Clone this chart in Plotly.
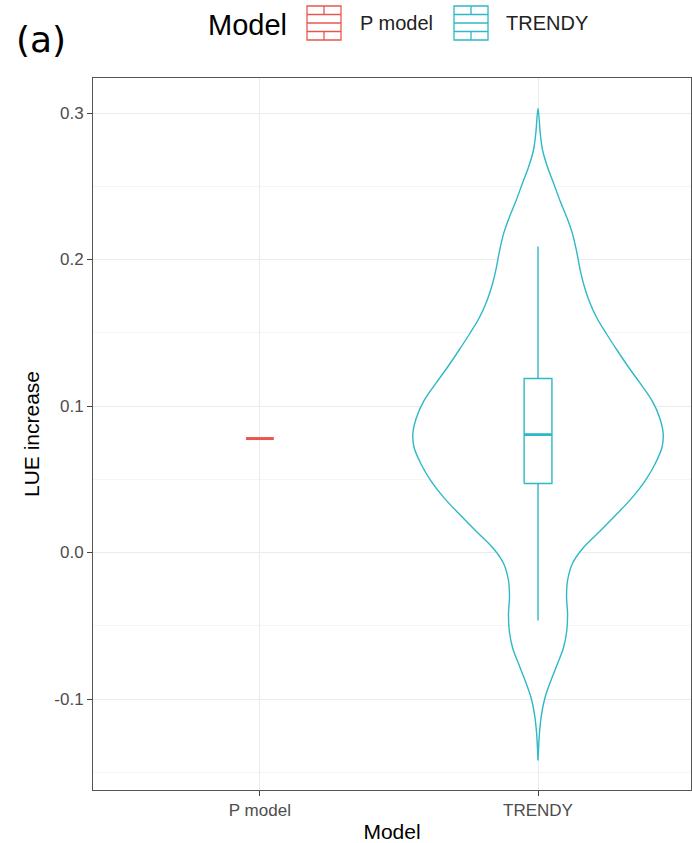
import plotly.graph_objects as go

# ---------------- data ----------------
categories = ["P model", "TRENDY"]
legend_title = "Model"

# TRENDY violin outline: LUE level and relative density (1 = widest)
violin_levels = [0.3031, 0.2860, 0.2744, 0.2628, 0.2519, 0.2403, 0.2287, 0.2177,
                 0.2061, 0.1945, 0.1836, 0.1720, 0.1604, 0.1495, 0.1379, 0.1263,
                 0.1154, 0.1038, 0.0922, 0.0812, 0.0717, 0.0608, 0.0491, 0.0375,
                 0.0266, 0.0150, 0.0034, -0.0075, -0.0191, -0.0307, -0.0416, -0.0532,
                 -0.0648, -0.0758, -0.0874, -0.0990, -0.1099, -0.1215, -0.1420]
violin_density = [0.0, 0.018, 0.037, 0.077, 0.125, 0.175, 0.230, 0.275,
                  0.307, 0.333, 0.363, 0.407, 0.468, 0.545, 0.633, 0.725,
                  0.817, 0.910, 0.971, 1.0, 0.990, 0.937, 0.857, 0.752,
                  0.633, 0.500, 0.363, 0.275, 0.236, 0.228, 0.236, 0.230,
                  0.204, 0.156, 0.103, 0.056, 0.029, 0.013, 0.0]

# TRENDY box statistics
trendy_q1 = 0.0471
trendy_median = 0.0805
trendy_q3 = 0.1188
trendy_lower = -0.0464
trendy_upper = 0.2089

# P model (single value)
pmodel_value = 0.0778

y_ticks = [-0.1, 0.0, 0.1, 0.2, 0.3]
y_tick_labels = ["-0.1", "0.0", "0.1", "0.2", "0.3"]
y_minor = [-0.15, -0.05, 0.05, 0.15, 0.25]

# ---------------- styles ----------------
RED = "#E8574F"
BLUE = "#2DB9C6"
VIOLIN_HALF = 0.45
BOX_W = 0.1
W, H = 692, 843
ML, MR, MT, MB = 93, 1, 78, 53
PW, PH = W - ML - MR, H - MT - MB
FONT = "Liberation Sans"

xpos = {c: i + 1 for i, c in enumerate(categories)}


def px(x):
    return (x - ML) / PW


def py(y):
    return (H - MB - y) / PH


fig = go.Figure()

# violin outline (filled white)
xc = xpos["TRENDY"]
right_x = [xc + VIOLIN_HALF * d for d in violin_density]
left_x = [xc - VIOLIN_HALF * d for d in violin_density][::-1]
vx = right_x + left_x
vy = violin_levels + violin_levels[::-1]
fig.add_trace(go.Scatter(x=vx, y=vy, mode="lines", fill="toself", fillcolor="white",
                         line=dict(color=BLUE, width=1.4, shape="spline", smoothing=1.0),
                         showlegend=False, hoverinfo="skip"))

# TRENDY box (drawn from the box statistics)
bl, br = xc - BOX_W / 2, xc + BOX_W / 2
fig.add_trace(go.Scatter(x=[xc, xc], y=[trendy_q3, trendy_upper], mode="lines",
                         line=dict(color=BLUE, width=1.4), showlegend=False, hoverinfo="skip"))
fig.add_trace(go.Scatter(x=[xc, xc], y=[trendy_lower, trendy_q1], mode="lines",
                         line=dict(color=BLUE, width=1.4), showlegend=False, hoverinfo="skip"))
fig.add_trace(go.Scatter(x=[bl, br, br, bl, bl], y=[trendy_q1, trendy_q1, trendy_q3, trendy_q3, trendy_q1],
                         mode="lines", fill="toself", fillcolor="white",
                         line=dict(color=BLUE, width=1.4), showlegend=False, hoverinfo="skip"))
fig.add_trace(go.Scatter(x=[bl, br], y=[trendy_median, trendy_median],
                         mode="lines", line=dict(color=BLUE, width=2.8),
                         showlegend=False, hoverinfo="skip"))

# P model (collapsed box -> horizontal line)
xp = xpos["P model"]
fig.add_trace(go.Scatter(x=[xp - BOX_W / 2, xp + BOX_W / 2], y=[pmodel_value, pmodel_value],
                         mode="lines", line=dict(color=RED, width=3),
                         showlegend=False, hoverinfo="skip"))

# ---------------- manual legend ----------------
shapes = []
annotations = []


def key_glyph(x0, y0, size, color):
    x1, y1 = x0 + size, y0 + size
    xm = (x0 + x1) / 2
    lw = 1.3
    shapes.append(dict(type="rect", xref="paper", yref="paper",
                       x0=px(x0), x1=px(x1), y0=py(y1), y1=py(y0),
                       line=dict(color=color, width=lw), fillcolor="white"))
    for f in (0.25, 0.5, 0.75):
        yy = y0 + f * size
        shapes.append(dict(type="line", xref="paper", yref="paper",
                           x0=px(x0), x1=px(x1), y0=py(yy), y1=py(yy),
                           line=dict(color=color, width=lw)))
    shapes.append(dict(type="line", xref="paper", yref="paper",
                       x0=px(xm), x1=px(xm), y0=py(y0), y1=py(y0 + 0.25 * size),
                       line=dict(color=color, width=lw)))
    shapes.append(dict(type="line", xref="paper", yref="paper",
                       x0=px(xm), x1=px(xm), y0=py(y0 + 0.75 * size), y1=py(y1),
                       line=dict(color=color, width=lw)))


key_glyph(307, 6, 34, RED)
key_glyph(454, 6, 34, BLUE)

annotations.append(dict(text=legend_title, xref="paper", yref="paper", x=px(247), y=py(25),
                        xanchor="center", yanchor="middle", showarrow=False,
                        font=dict(size=29, color="black", family=FONT)))
annotations.append(dict(text=categories[0], xref="paper", yref="paper", x=px(358), y=py(23),
                        xanchor="left", yanchor="middle", showarrow=False,
                        font=dict(size=20, color="#222222", family=FONT)))
annotations.append(dict(text=categories[1], xref="paper", yref="paper", x=px(504), y=py(23),
                        xanchor="left", yanchor="middle", showarrow=False,
                        font=dict(size=20, color="#222222", family=FONT)))
annotations.append(dict(text="(a)", xref="paper", yref="paper", x=px(14), y=py(40),
                        xanchor="left", yanchor="middle", showarrow=False,
                        font=dict(size=36, color="black", family="DejaVu Sans")))

fig.update_layout(
    width=W, height=H,
    margin=dict(l=ML, r=MR, t=MT, b=MB),
    paper_bgcolor="white", plot_bgcolor="white",
    showlegend=False,
    shapes=shapes, annotations=annotations,
    font=dict(family=FONT),
)

fig.update_xaxes(
    range=[0.4, 2.55], tickvals=[xpos[c] for c in categories], ticktext=categories,
    showgrid=True, gridcolor="#EBEBEB", gridwidth=1, zeroline=False,
    showline=True, mirror=True, linecolor="#555555", linewidth=1,
    ticks="outside", ticklen=5, tickcolor="#444444",
    tickfont=dict(size=17, color="#4D4D4D"),
    title=dict(text="Model", font=dict(size=21, color="black"), standoff=6),
    automargin=False,
)
fig.update_yaxes(
    range=[-0.1621, 0.3239], tickvals=y_ticks, ticktext=y_tick_labels,
    showgrid=True, gridcolor="#EBEBEB", gridwidth=1, zeroline=False,
    minor=dict(tickvals=y_minor, showgrid=True, gridcolor="#F5F5F5", gridwidth=1),
    showline=True, mirror=True, linecolor="#555555", linewidth=1,
    ticks="outside", ticklen=5, tickcolor="#444444",
    tickfont=dict(size=17, color="#4D4D4D"),
    title=dict(text="LUE increase", font=dict(size=21, color="black"), standoff=8),
    automargin=False,
)

fig.write_html("out.html", post_script="document.body.style.margin='0';",
               config={"displayModeBar": False})
